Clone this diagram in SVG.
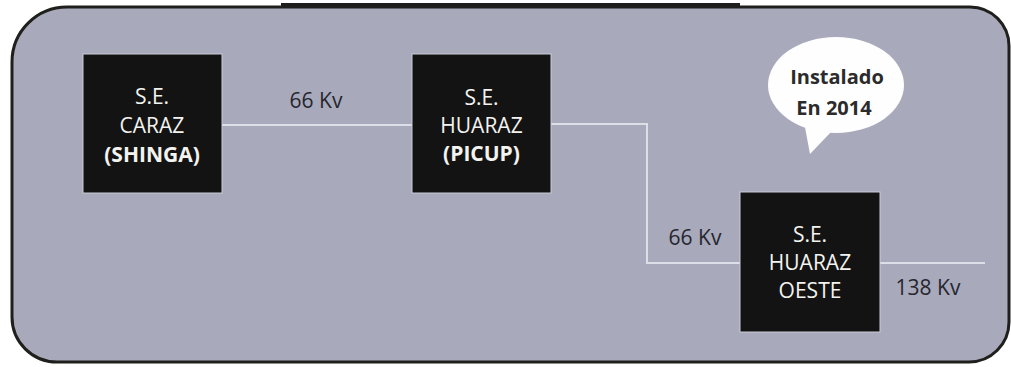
<svg xmlns="http://www.w3.org/2000/svg" width="1011" height="367" viewBox="0 0 1011 367">
<style>
.box{fill:#131313;stroke:#c9ccd8;stroke-width:1}
.bt{font-family:"Open Sans","DejaVu Sans",sans-serif;font-size:21px;fill:#f3f3f0;text-anchor:middle}
.b{font-weight:bold}
.lbl{font-family:"Open Sans","DejaVu Sans",sans-serif;font-size:21px;fill:#26262e;text-anchor:middle}
.bub{font-family:"Open Sans","DejaVu Sans",sans-serif;font-size:20px;font-weight:bold;fill:#2b2b2b;text-anchor:middle}
.wire{fill:none;stroke:#dcdee8;stroke-width:2}
</style>
<rect width="1011" height="367" fill="#ffffff"/>
<line x1="281" y1="5" x2="740" y2="5" stroke="#1e1e1e" stroke-width="4"/>
<path id="panel" d="M67 7 H970 A39 39 0 0 1 1009 46 V322 A40 40 0 0 1 969 362 H57 A45 45 0 0 1 12 317 V62 A55 55 0 0 1 67 7 Z" fill="#a8aabc" stroke="#1f1f1c" stroke-width="3"/>
<g id="connectors">
<line class="wire" x1="222" y1="125" x2="412" y2="125"/>
<polyline class="wire" points="551,124 647,124 647,263 740,263"/>
<line class="wire" x1="880" y1="263" x2="985" y2="263"/>
<text class="lbl" x="316" y="108">66 Kv</text>
<text class="lbl" x="695" y="245">66 Kv</text>
<text class="lbl" x="928" y="295">138 Kv</text>
</g>
<g id="se-caraz">
<rect class="box" x="83" y="54" width="139" height="139"/>
<text class="bt" x="152" y="104">S.E.</text>
<text class="bt" x="152" y="133">CARAZ</text>
<text class="bt b" x="152" y="162">(SHINGA)</text>
</g>
<g id="se-huaraz-picup">
<rect class="box" x="412" y="54" width="139" height="139"/>
<text class="bt" x="481.5" y="105">S.E.</text>
<text class="bt" x="481.5" y="133">HUARAZ</text>
<text class="bt b" x="481.5" y="161">(PICUP)</text>
</g>
<g id="se-huaraz-oeste">
<rect class="box" x="740" y="192" width="140" height="140"/>
<text class="bt" x="810" y="242">S.E.</text>
<text class="bt" x="810" y="270">HUARAZ</text>
<text class="bt" x="810" y="298">OESTE</text>
</g>
<g id="bubble">
<ellipse cx="836" cy="85" rx="68" ry="48" fill="#fefefe"/>
<path d="M804 122 L810 154 L832 131 Z" fill="#fefefe"/>
<text class="bub" x="837" y="84">Instalado</text>
<text class="bub" x="834" y="115">En 2014</text>
</g>
</svg>
